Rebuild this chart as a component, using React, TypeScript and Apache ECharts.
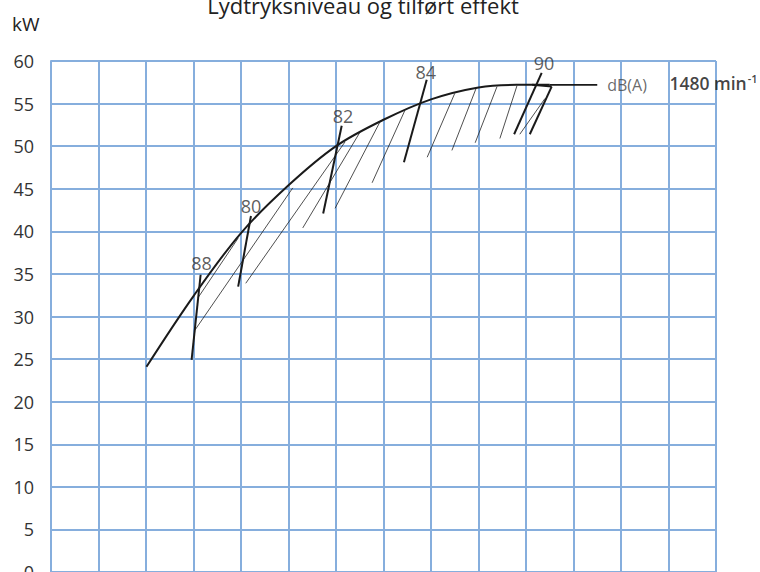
import React, { useEffect, useRef } from "react";
import * as echarts from "echarts";

// x is in grid-cell units (0..14, no labels in the reference), y is kW
const yTicks = [0, 5, 10, 15, 20, 25, 30, 35, 40, 45, 50, 55, 60];

// main power curve
const curveU = [2.01, 3.0, 4.0, 5.0, 6.0, 7.0, 8.0, 9.0, 9.8, 10.5];
const curveKW = [24.1, 32.4, 39.8, 45.4, 50.0, 53.1, 55.5, 56.9, 57.2, 57.2];

// leader line to the dB(A) label
const leaderU = [10.5, 11.5];
const leaderKW = [57.2, 57.2];

// thin hatch segments: [u1, kW1, u2, kW2]
const hatchSegments = [
  [3.095, 32.2, 3.94, 39.2],
  [3.03, 28.4, 5.09, 45.1],
  [4.1, 33.9, 6.19, 50.5],
  [5.3, 40.4, 6.5, 51.6],
  [5.98, 42.7, 6.93, 52.9],
  [6.76, 45.7, 7.45, 54.2],
  [7.92, 48.7, 8.5, 56.2],
  [8.44, 49.5, 8.95, 56.8],
  [8.93, 50.4, 9.39, 57.0],
  [9.45, 50.9, 9.81, 57.1],
  [9.87, 51.4, 10.4, 55.6],
];

// thick dB(A) iso-lines: [u1, kW1, u2, kW2]
const isoSegments = [
  [3.15, 34.9, 2.96, 24.9],
  [4.21, 41.8, 3.94, 33.5],
  [6.12, 52.4, 5.73, 42.1],
  [7.91, 57.8, 7.43, 48.1],
  [10.33, 58.6, 9.75, 51.4],
  [10.13, 57.2, 10.54, 57.0],
  [10.54, 57.0, 10.08, 51.4],
];

// dB(A) level labels
const levelLabels = ["88", "80", "82", "84", "90"];
const levelU = [3.17, 4.21, 6.15, 7.89, 10.38];
const levelKW = [36.3, 43.0, 53.5, 58.7, 59.8];

const FONT = "'Open Sans', 'Noto Sans', sans-serif";

export default function App() {
  const ref = useRef<HTMLDivElement>(null);
  useEffect(() => {
    if (!ref.current) return;
    const chart = echarts.init(ref.current, null, { renderer: "svg" });

    const segSeries = (segs: number[][], width: number, color: string) =>
      segs.map((s) => ({
        type: "line",
        data: [
          [s[0], s[1]],
          [s[2], s[3]],
        ],
        symbol: "none",
        silent: true,
        lineStyle: { color, width },
        z: 3,
      }));

    const option: any = {
      animation: false,
      backgroundColor: "#ffffff",
      grid: {
        left: 51,
        right: 44,
        top: 61,
        bottom: 0,
        containLabel: false,
        outerBoundsMode: "none",
      },
      xAxis: {
        type: "value",
        min: 0,
        max: 14,
        interval: 1,
        axisLabel: { show: false },
        axisTick: { show: false },
        axisLine: { show: false },
        splitLine: { show: true, lineStyle: { color: "#86aedd", width: 2 } },
      },
      yAxis: {
        type: "value",
        min: 0,
        max: 60,
        interval: 5,
        axisLabel: {
          show: true,
          margin: 17,
          color: "#333",
          fontSize: 18,
          fontFamily: FONT,
          formatter: (v: number) => (yTicks.includes(v) ? String(v) : ""),
        },
        axisTick: { show: false },
        axisLine: { show: true, lineStyle: { color: "#86aedd", width: 2 } },
        splitLine: { show: true, lineStyle: { color: "#86aedd", width: 2 } },
      },
      graphic: [
        {
          type: "text",
          x: 363,
          y: 5,
          style: {
            text: "Lydtryksniveau og tilført effekt",
            fill: "#222",
            font: `22px ${FONT}`,
            textAlign: "center",
            textVerticalAlign: "middle",
          },
        },
        {
          type: "text",
          x: 12,
          y: 24,
          style: {
            text: "kW",
            fill: "#222",
            font: `19px ${FONT}`,
            textAlign: "left",
            textVerticalAlign: "middle",
          },
        },
      ],
      series: [
        {
          type: "line",
          data: curveU.map((u, i) => [u, curveKW[i]]),
          smooth: 0.35,
          symbol: "none",
          silent: true,
          lineStyle: { color: "#1a1a1a", width: 2 },
          z: 4,
        },
        {
          type: "line",
          data: leaderU.map((u, i) => [u, leaderKW[i]]),
          symbol: "none",
          silent: true,
          lineStyle: { color: "#1a1a1a", width: 1.8 },
          z: 4,
        },
        ...segSeries(hatchSegments, 0.8, "#222"),
        ...segSeries(isoSegments, 2, "#1a1a1a"),
        {
          type: "scatter",
          symbolSize: 0,
          silent: true,
          data: levelLabels.map((t, i) => ({ value: [levelU[i], levelKW[i]], name: t })),
          label: {
            show: true,
            position: "inside",
            formatter: (p: any) => p.name,
            color: "#333",
            fontSize: 18,
            fontFamily: FONT,
          },
          z: 5,
        },
        {
          type: "scatter",
          symbolSize: 0,
          silent: true,
          data: [{ value: [11.71, 57.2], name: "dB(A)" }],
          label: {
            show: true,
            position: "right",
            distance: 0,
            formatter: (p: any) => p.name,
            color: "#444",
            fontSize: 16,
            fontFamily: FONT,
          },
          z: 5,
        },
        {
          type: "scatter",
          symbolSize: 0,
          silent: true,
          data: [{ value: [13.02, 57.4], name: "1480" }],
          label: {
            show: true,
            position: "right",
            distance: 0,
            formatter: () => "{b|1480 min}{s|-1}",
            rich: {
              b: { color: "#111", fontSize: 17.5, fontWeight: 600, fontFamily: FONT },
              s: {
                color: "#111",
                fontSize: 11,
                fontWeight: 600,
                fontFamily: FONT,
                verticalAlign: "top",
                padding: [0, 0, 10, 1],
              },
            },
          },
          z: 5,
        },
      ],
    };
    chart.setOption(option);
    return () => chart.dispose();
  }, []);
  return (
    <div
      ref={ref}
      style={{ position: "fixed", left: 0, top: 0, width: 760, height: 572, background: "#fff" }}
    />
  );
}
